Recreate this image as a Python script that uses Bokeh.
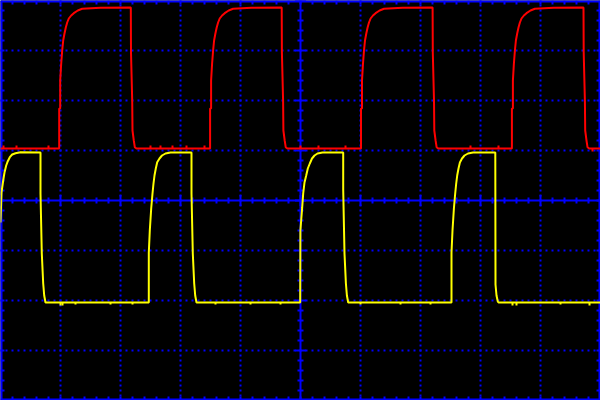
import numpy as np
from bokeh.plotting import figure
from bokeh.models import Range1d
from bokeh.embed import file_html
from bokeh.resources import INLINE

# ---- data: time in microseconds (60 us/div), voltage in mV (50 mV/div) ----
ch1_t = [0,
         58.7, 58.7, 59.7, 59.7, 60.7, 61.7, 62.7, 64.0, 65.3, 66.7, 68.3, 70.7, 73.3, 77.3, 81.7, 100.0,
         130.3, 130.5, 131.7, 132.0, 133.3, 134.3, 136.0,
         209.6, 209.6, 210.6, 210.6, 211.6, 212.6, 213.6, 214.9, 216.2, 217.6, 219.2, 221.6, 224.2, 228.2, 232.6, 251.0,
         281.2, 281.4, 282.6, 282.9, 284.2, 285.2, 286.9,
         360.5, 360.5, 361.5, 361.5, 362.5, 363.5, 364.5, 365.8, 367.1, 368.5, 370.1, 372.5, 375.1, 379.1, 383.5, 402.0,
         432.1, 432.3, 433.5, 433.8, 435.1, 436.1, 437.8,
         511.4, 511.4, 512.4, 512.4, 513.4, 514.4, 515.4, 516.7, 518.0, 519.4, 521.0, 523.4, 526.0, 530.0, 534.4, 553.0,
         583.0, 583.2, 584.4, 584.7, 586.0, 587.0, 588.7,
         600]
ch1_v = [52,
         52, 92, 92, 120, 137, 150, 160, 167, 173, 178, 182, 185, 187.3, 190, 191.7, 192.7,
         193, 148, 100, 70, 60, 53.3, 52,
         52, 92, 92, 120, 137, 150, 160, 167, 173, 178, 182, 185, 187.3, 190, 191.7, 192.7,
         193, 148, 100, 70, 60, 53.3, 52,
         52, 92, 92, 120, 137, 150, 160, 167, 173, 178, 182, 185, 187.3, 190, 191.7, 192.7,
         193, 148, 100, 70, 60, 53.3, 52,
         52, 92, 92, 120, 137, 150, 160, 167, 173, 178, 182, 185, 187.3, 190, 191.7, 192.7,
         193, 148, 100, 70, 60, 53.3, 52,
         52]

ch2_t = [0, 1.0, 2.7, 4.0, 5.7, 7.3, 9.3, 11.7, 15.0, 20.0,
         40.0, 40.0, 41.3, 42.7, 43.7, 45.0,
         148.3, 148.3, 149.3, 150.7, 152.0, 153.0, 154.0, 155.3, 156.7, 159.0, 161.5, 165.0, 170.0,
         191.0, 191.0, 192.3, 193.7, 194.7, 196.0,
         299.7, 299.9, 301.7, 302.7, 304.0, 305.7, 307.3, 309.3, 311.5, 314.0, 317.0, 322.0,
         342.7, 342.7, 344.0, 345.4, 346.4, 347.7,
         451.0, 451.0, 452.0, 453.4, 454.7, 455.7, 456.7, 458.0, 459.4, 461.5, 464.0, 467.5, 472.5,
         494.8, 495.0, 496.0, 497.3, 498.0,
         600]
ch2_v = [-22, 8, 20, 28, 35, 39.3, 43.3, 46, 47.3, 48.3,
         48, 7, -53, -83, -95, -102,
         -102, -52, -30, -8, 7, 17, 25, 32, 38.3, 42, 45, 47, 48,
         48, 7, -53, -83, -95, -102,
         -102, -30, -6.7, 7, 18, 25, 32, 37, 42, 45, 47, 48,
         48, 11, -53, -83, -95, -102,
         -102, -52, -30, -8, 7, 17, 25, 32, 38, 42, 45, 47, 48,
         48, -84, -95, -101, -102,
         -102]

# small noise spikes read on the flat parts
ch1_spike_t = [3, 16, 48, 150, 160, 172, 186, 204, 300, 318, 345, 470, 498, 592]
ch1_spike_v = [55, 55, 55, 55, 55, 55, 55, 55, 55, 55, 55, 55, 55, 49]
ch2_spike_t = [60, 62, 75, 110, 132, 215, 250, 280, 360, 400, 430, 512, 516, 560, 589]
ch2_spike_v = [-105, -105, -104, -104, -104, -104, -104, -104, -104, -104, -104, -105, -105, -104, -105]

RED = "#ff0000"
YEL = "#ffff00"
BLUE = "#0000ff"

p = figure(width=600, height=400, x_range=Range1d(0, 600), y_range=Range1d(-200, 200),
           output_backend="svg", toolbar_location=None, title=None, min_border=0,
           background_fill_color="black", border_fill_color="black", outline_line_color=None)
p.xaxis.visible = False
p.yaxis.visible = False
p.xgrid.visible = False
p.ygrid.visible = False

# dotted graticule
dx, dy = [], []
for gy in [-150, -100, -50, 50, 100, 150]:
    xs = np.arange(0, 601, 6)
    dx += list(xs)
    dy += [gy] * len(xs)
for gx in [60, 120, 180, 240, 360, 420, 480, 540]:
    ys = np.arange(-200, 201, 5)
    dx += [gx] * len(ys)
    dy += list(ys)
p.scatter(dx, dy, marker="square", size=2, fill_color=BLUE, line_color=None)

# centre cross with ticks
p.segment(x0=[0, 300], y0=[0, -200], x1=[600, 300], y1=[0, 200], line_color=BLUE, line_width=2)
tx = np.arange(0, 601, 12)
tlen = np.where(tx % 60 == 0, 5.5, 3.0)
p.segment(x0=tx, y0=-tlen, x1=tx, y1=tlen, line_color=BLUE, line_width=2)
ty = np.arange(-200, 201, 10)
tl2 = np.where(ty % 50 == 0, 5.5, 3.0)
p.segment(x0=300 - tl2, y0=ty, x1=300 + tl2, y1=ty, line_color=BLUE, line_width=2)

# border with inward ticks
p.segment(x0=[0, 0, 0, 600], y0=[-200, 200, -200, -200], x1=[600, 600, 0, 600], y1=[-200, 200, 200, 200],
          line_color=BLUE, line_width=4)
bx = np.arange(12, 600, 12)
p.segment(x0=bx, y0=-200, x1=bx, y1=-196, line_color=BLUE, line_width=2)
p.segment(x0=bx, y0=200, x1=bx, y1=196, line_color=BLUE, line_width=2)
by = np.arange(-190, 200, 10)
p.segment(x0=0, y0=by, x1=4, y1=by, line_color=BLUE, line_width=2)
p.segment(x0=600, y0=by, x1=596, y1=by, line_color=BLUE, line_width=2)

# traces
p.line(ch2_t, ch2_v, line_color=YEL, line_width=2)
p.segment(x0=ch2_spike_t, y0=-102, x1=ch2_spike_t, y1=ch2_spike_v, line_color=YEL, line_width=2)
p.line(ch1_t, ch1_v, line_color=RED, line_width=2)
p.segment(x0=ch1_spike_t, y0=52, x1=ch1_spike_t, y1=ch1_spike_v, line_color=RED, line_width=2)

open("out.html", "w").write(file_html(p, INLINE))
